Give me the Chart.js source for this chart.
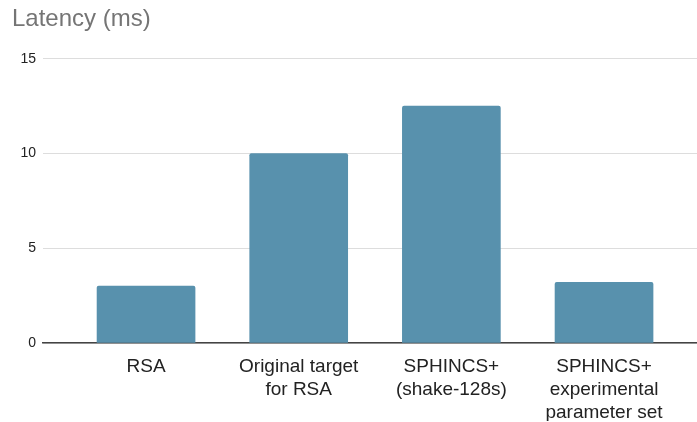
<!DOCTYPE html>
<html>
<head>
<meta charset="utf-8">
<script src="https://cdn.jsdelivr.net/npm/chart.js@4/dist/chart.umd.min.js"></script>
<style>
  html, body { margin: 0; padding: 0; background: #fff; }
  #wrap { width: 697px; height: 422px; position: relative; }
</style>
</head>
<body>
<div id="wrap"><canvas id="chart"></canvas></div>
<script>
// --- Data ---
const categories = [
    ['RSA'],
    ['Original target', 'for RSA'],
    ['SPHINCS+', '(shake-128s)'],
    ['SPHINCS+', 'experimental', 'parameter set']
];
const latencyMs = [3, 10, 12.5, 3.2];
const yTicks = [0, 5, 10, 15];

const FONT = "Arial, 'Liberation Sans', sans-serif";
const BAR_COLOR = '#5891ad';

// bars sit on a linear x scale so the plot can stretch past the outer bars
const points = latencyMs.map((v, i) => ({ x: i, y: v }));

new Chart(document.getElementById('chart'), {
    type: 'bar',
    data: {
        datasets: [{
            label: 'Latency (ms)',
            data: points,
            backgroundColor: BAR_COLOR,
            borderRadius: 2,
            borderSkipped: 'bottom',
            barThickness: 98
        }]
    },
    options: {
        responsive: true,
        maintainAspectRatio: false,
        animation: false,
        layout: { padding: { left: 12, right: 0, top: 3, bottom: 1 } },
        plugins: {
            legend: { display: false },
            tooltip: { enabled: false },
            title: {
                display: true,
                text: 'Latency (ms)',
                align: 'start',
                color: '#757575',
                font: { family: FONT, size: 24, weight: 'normal' },
                padding: { top: 2, bottom: 25 }
            }
        },
        scales: {
            x: {
                type: 'linear',
                offset: false,
                min: -0.675,
                max: 3.609,
                afterFit: (s) => { s.height = 78; },
                grid: { display: false, drawTicks: false },
                border: { display: true, color: '#444', width: 1.5 },
                ticks: {
                    stepSize: 1,
                    includeBounds: false,
                    autoSkip: false,
                    maxRotation: 0,
                    padding: 12,
                    color: '#222',
                    font: { family: FONT, size: 19, lineHeight: 1.21 },
                    callback: (v) => Number.isInteger(v) && categories[v] ? categories[v] : ''
                }
            },
            y: {
                min: yTicks[0],
                max: yTicks[yTicks.length - 1],
                afterFit: (s) => { s.width = 31; },
                grid: { color: '#dddddd', lineWidth: 1, drawTicks: false },
                border: { display: false },
                ticks: {
                    stepSize: 5,
                    padding: 7,
                    color: '#222',
                    font: { family: FONT, size: 14 }
                }
            }
        }
    }
});
</script>
</body>
</html>
